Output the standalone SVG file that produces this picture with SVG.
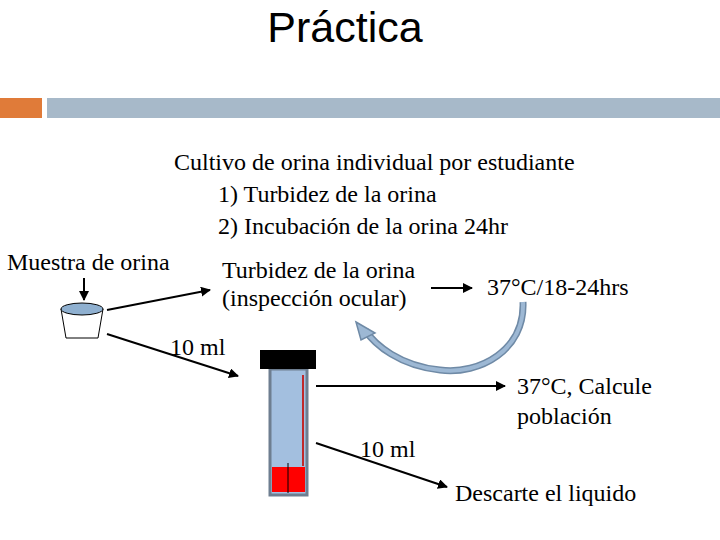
<svg xmlns="http://www.w3.org/2000/svg" width="720" height="540" viewBox="0 0 720 540">
<defs>
<style>
.t{font-family:"Liberation Serif",serif;font-size:24px;fill:#000}
.c{stroke:#000;stroke-width:2;fill:none;marker-end:url(#a)}
</style>
<marker id="a" viewBox="0 0 10 10" refX="9" refY="5" markerWidth="5" markerHeight="5" orient="auto"><path d="M0,0L10,5L0,10z" fill="#000"/></marker>
</defs>
<rect width="720" height="540" fill="#fff"/>
<g id="header">
<text x="345" y="42" text-anchor="middle" style="font-family:'Liberation Sans',sans-serif;font-size:43px">Práctica</text>
<rect x="0" y="98" width="42" height="20" fill="#e07b39"/>
<rect x="47" y="98" width="673" height="20" fill="#a7b9c9"/>
</g>
<g id="intro">
<text class="t" x="174" y="170">Cultivo de orina individual por estudiante</text>
<text class="t" x="218" y="202">1) Turbidez de la orina</text>
<text class="t" x="218" y="234">2) Incubación de la orina 24hr</text>
</g>
<g id="muestra">
<text class="t" x="7" y="270">Muestra de orina</text>
<path d="M61,309L66,338L98,338L103,309z" fill="#fff" stroke="#000"/>
<ellipse cx="82" cy="309" rx="21" ry="6" fill="#8fb0d0" stroke="#000"/>
</g>
<g id="turbidez">
<text class="t" x="222" y="278">Turbidez de la orina</text>
<text class="t" x="222" y="306">(inspección ocular)</text>
</g>
<g id="temp1"><text class="t" x="487" y="295">37°C/18-24hrs</text></g>
<g id="tubo">
<rect x="270" y="369" width="37" height="126" fill="#a3bfdf" stroke="#6e7e90" stroke-width="3"/>
<rect x="260" y="350" width="56" height="19" fill="#000"/>
<line x1="303" y1="375" x2="303" y2="466" stroke="#c0282a" stroke-width="2"/>
<rect x="272" y="467" width="33" height="25" fill="#ff0000"/>
<line x1="288" y1="463" x2="288" y2="493" stroke="#000"/>
</g>
<g id="temp2">
<text class="t" x="517" y="394">37°C, Calcule</text>
<text class="t" x="517" y="424">población</text>
</g>
<g id="descarte"><text class="t" x="455" y="501">Descarte el liquido</text></g>
<g id="connectors">
<path class="c" d="M84,278L84,300"/>
<path class="c" d="M107,310L210,290"/>
<path class="c" d="M107,334L238,376"/>
<path class="c" d="M431,288L472,288"/>
<path class="c" d="M316,386L505,386"/>
<path class="c" d="M316,443L447,487"/>
<path d="M523,302C525,350 480,375 440,370C400,366 375,345 365,330" fill="none" stroke="#6f8aa6" stroke-width="7"/>
<path d="M523,302C525,350 480,375 440,370C400,366 375,345 365,330" fill="none" stroke="#9db8d4" stroke-width="4"/>
<path d="M356,322L375,333L361,340z" fill="#9db8d4" stroke="#6f8aa6" stroke-width="1.5"/>
<text class="t" x="170" y="355">10 ml</text>
<text class="t" x="360" y="457">10 ml</text>
</g>
</svg>
